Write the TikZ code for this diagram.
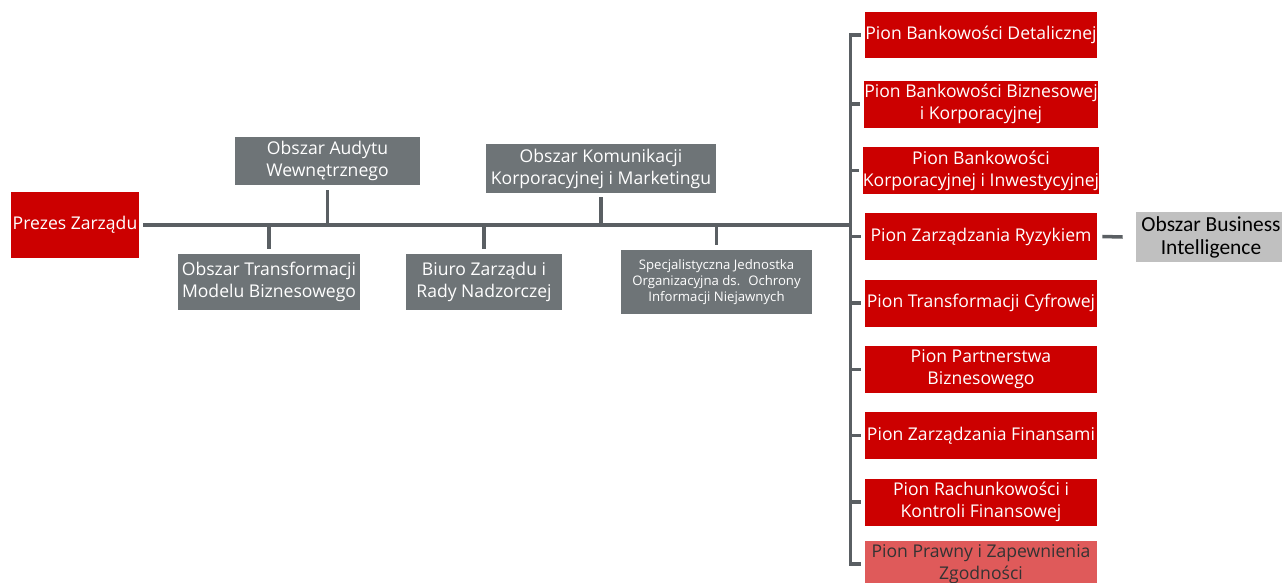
\documentclass[tikz,border=0pt]{standalone}
\usepackage{fontspec}
\setmainfont{Open Sans}
\newfontfamily\bifont{Carlito}
\usetikzlibrary{positioning}
\definecolor{pkored}{HTML}{CC0000}
\definecolor{pkolight}{HTML}{DF5A5A}
\definecolor{boxgray}{HTML}{6E7477}
\definecolor{linegray}{HTML}{5A5F63}
\definecolor{bigray}{HTML}{C0C0C0}

\begin{document}
\begin{tikzpicture}[x=0.02cm, y=-0.02cm,
                pion/.style={rectangle, fill=pkored, text=white, minimum width=4.64cm, minimum height=0.94cm, inner sep=0pt, align=center, font=\fontsize{10}{12.5}\selectfont},
                obszar/.style={rectangle, fill=boxgray, text=white, inner sep=0pt, align=center, font=\fontsize{10}{12.5}\selectfont},
                edge/.style={draw=linegray, line width=2pt}
            ]
            \clip (0,0) rectangle (1282,582);

            % Zarzad i obszary
            \node[pion, minimum width=2.56cm, minimum height=1.32cm] (Prezes) at (75,225) {Prezes Zarządu};
            \node[obszar, minimum width=3.7cm, minimum height=0.96cm] (Audyt) at (327.5,161) {Obszar Audytu\\Wewnętrznego};
            \node[obszar, minimum width=3.64cm, minimum height=1.12cm] (Transf) at (269,282) {Obszar Transformacji\\Modelu Biznesowego};
            \node[obszar, minimum width=3.12cm, minimum height=1.12cm] (Biuro) at (484,282) {Biuro Zarządu i\\Rady Nadzorczej};
            \node[obszar, minimum width=4.6cm, minimum height=0.98cm] (Komunik) at (601,168.5) {Obszar Komunikacji\\Korporacyjnej i Marketingu};
            \node[obszar, minimum width=3.82cm, minimum height=1.28cm, font=\fontsize{7.5}{9}\selectfont] (Spec) at (716.5,282) {Specjalistyczna Jednostka\\Organizacyjna ds.~ Ochrony\\Informacji Niejawnych};

            % Piony
            \foreach \i/\y/\txt in {1/35/{Pion Bankowości Detalicznej},
                                    2/104/{Pion Bankowości Biznesowej\\i Korporacyjnej},
                                    3/170.5/{Pion Bankowości\\Korporacyjnej i Inwestycyjnej},
                                    4/236.5/{Pion Zarządzania Ryzykiem},
                                    5/303/{Pion Transformacji Cyfrowej},
                                    6/369.5/{Pion Partnerstwa\\Biznesowego},
                                    7/435.5/{Pion Zarządzania Finansami},
                                    8/502/{Pion Rachunkowości i\\Kontroli Finansowej}}
                \node[pion] (P\i) at (981,\y) {\txt};
            \node[pion, fill=pkolight, text=black!80] (P9) at (981,564) {Pion Prawny i Zapewnienia\\Zgodności};
            \node[rectangle, fill=bigray, minimum width=3.0cm, minimum height=1.0cm, inner sep=0pt, align=center, font=\bifont\fontsize{12.2}{13}\selectfont] (BI) at (1211,237) {Obszar Business\\Intelligence};

            % Kanten
            \draw[edge] ([xshift=0.08cm]Prezes.east) -- ([xshift=-0.28cm]Prezes.east -| P1.west);
            \draw[edge] ([yshift=-0.1cm]Audyt.south) -- (Audyt.south |- Prezes.east);
            \draw[edge] ([yshift=-0.08cm]Komunik.south) -- (Komunik.south |- Prezes.east);
            \draw[edge] (Transf.north |- Prezes.east) -- ([yshift=0.1cm]Transf.north);
            \draw[edge] (Biuro.north |- Prezes.east) -- ([yshift=0.1cm]Biuro.north);
            \draw[edge] (Spec.north |- Prezes.east) -- ([yshift=0.1cm]Spec.north);
            \draw[edge] ([xshift=-0.08cm]P1.west) -| ([xshift=-0.28cm]P9.west) -- ([xshift=-0.08cm]P9.west);
            \foreach \i in {2,...,8}
                \draw[edge] ([xshift=-0.08cm]P\i.west) -- ([xshift=-0.28cm]P\i.west);
            \draw[edge] ([xshift=0.1cm]P4.east) -- ([xshift=-0.26cm]BI.west);

        \end{tikzpicture}
\end{document}
